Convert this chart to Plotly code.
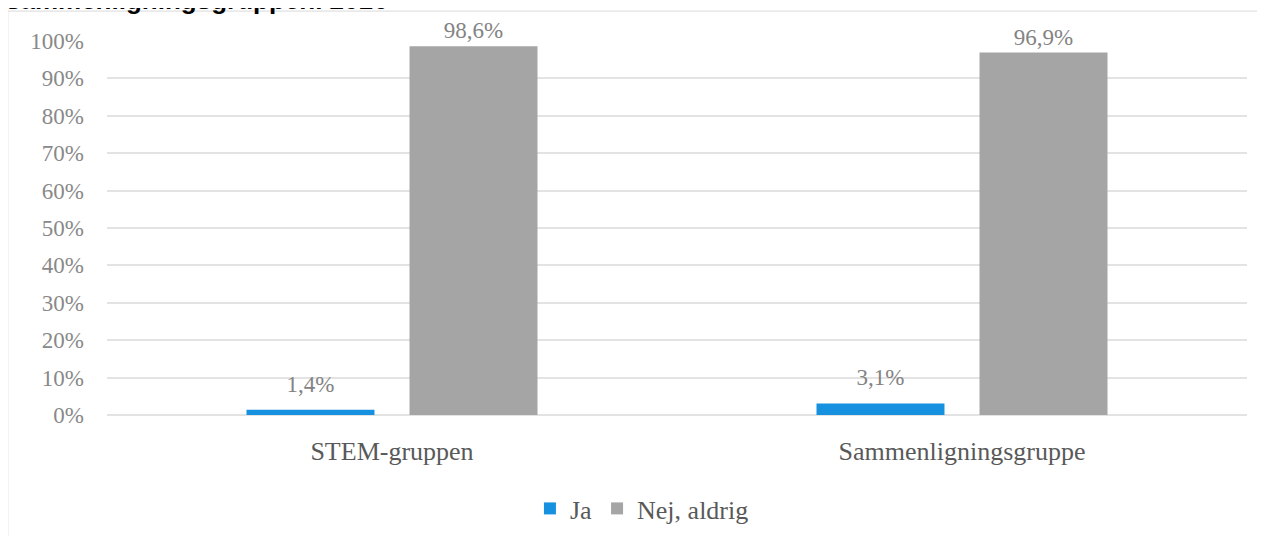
import plotly.graph_objects as go

# Data
groups = ["STEM-gruppen", "Sammenligningsgruppe"]
ja = [1.4, 3.1]
nej_aldrig = [98.6, 96.9]
y_ticks = [0, 10, 20, 30, 40, 50, 60, 70, 80, 90, 100]
y_tick_labels = ["0%", "10%", "20%", "30%", "40%", "50%", "60%", "70%", "80%", "90%", "100%"]

BLUE = "#1591E0"
GREY = "#A5A5A5"
SERIF = "Liberation Serif"
LABEL_FONT = dict(family=SERIF, size=23, color="#838383")
GAP = 0.428

fig = go.Figure()

for name, vals, col in [("Ja", ja, BLUE), ("Nej, aldrig", nej_aldrig, GREY)]:
    fig.add_trace(go.Bar(
        x=groups, y=vals, name=name, offsetgroup=name,
        marker=dict(color=col, line=dict(width=0)),
    ))

# value labels above the bars (invisible marker works as a spacer)
for name, vals, pad in [("Ja", ja, 18), ("Nej, aldrig", nej_aldrig, 2)]:
    fig.add_trace(go.Scatter(
        x=groups, y=vals, mode="markers+text", offsetgroup=name,
        marker=dict(size=pad, opacity=0),
        texttemplate="%{y:.1f}%", textposition="top center",
        textfont=LABEL_FONT, showlegend=False, hoverinfo="skip",
        cliponaxis=False,
    ))

fig.update_layout(
    width=1265, height=536,
    margin=dict(l=99, r=26, t=33, b=129, autoexpand=False),
    paper_bgcolor="white", plot_bgcolor="white",
    separators=",.",
    barmode="group", bargap=GAP, bargroupgap=0.215,
    scattermode="group", scattergap=GAP,
    font=dict(family=SERIF, color="#595959"),
    showlegend=True,
    legend=dict(
        orientation="h", x=0.371, xanchor="left", y=-0.25, yanchor="middle",
        font=dict(family=SERIF, size=26, color="#595959"),
        itemwidth=30, traceorder="normal",
    ),
)

fig.update_yaxes(
    range=[0, 100], tickmode="array", tickvals=y_ticks, ticktext=y_tick_labels,
    showgrid=True, gridcolor="#E3E3E3", gridwidth=1.5,
    zeroline=True, zerolinecolor="#E3E3E3", zerolinewidth=1.5,
    showline=False, ticks="", automargin=False,
    tickfont=dict(family=SERIF, size=23, color="#898989"),
    ticklabelstandoff=22,
)
fig.update_xaxes(
    showline=False, ticks="", automargin=False,
    tickfont=dict(family=SERIF, size=26, color="#595959"),
    ticklabelstandoff=18,
)

# chart frame (light border, partly running off the page)
fig.add_shape(
    type="rect", xref="paper", yref="paper",
    x0=-0.087, x1=1.05, y0=-0.5, y1=1.08,
    line=dict(color="#D9D9D9", width=1), layer="below",
)

# title, mostly cut off at the top of the page
fig.add_annotation(
    text="<b>sammenligningsgruppen. 2016</b>",
    xref="paper", yref="paper", x=-0.090, y=1.0655,
    xanchor="left", yanchor="bottom", showarrow=False,
    font=dict(family="Liberation Sans", size=26, color="#000000"),
)

fig.write_html("out.html")
